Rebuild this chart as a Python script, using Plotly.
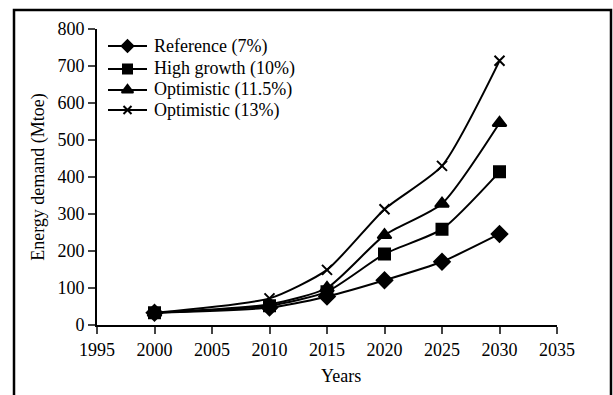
import plotly.graph_objects as go

# Energy demand projections (Mtoe) by scenario
years = [2000, 2010, 2015, 2020, 2025, 2030]
reference_7 = [33, 47, 77, 121, 171, 246]
high_growth_10 = [33, 52, 90, 192, 259, 414]
optimistic_11_5 = [33, 56, 100, 243, 328, 546]
optimistic_13 = [33, 72, 149, 313, 430, 714]

series_names = ["Reference (7%)", "High growth (10%)",
                "Optimistic (11.5%)", "Optimistic (13%)"]
series_values = [reference_7, high_growth_10, optimistic_11_5, optimistic_13]
symbols = ["diamond", "square", "triangle-up", "x-thin"]
marker_sizes = [12, 11, 12, 10]
key_sizes = [9, 9, 10, 8]

x_ticks = [1995, 2000, 2005, 2010, 2015, 2020, 2025, 2030, 2035]
y_ticks = [0, 100, 200, 300, 400, 500, 600, 700, 800]

font_family = "Liberation Serif"

L, R, T, B = 97, 56, 29, 70
W, H = 613, 395
pw, ph = W - L - R, H - T - B
bottom = H - B  # pixel row of the x axis

fig = go.Figure()
for name, vals, sym, size in zip(series_names, series_values, symbols, marker_sizes):
    fig.add_trace(go.Scatter(
        x=years, y=vals, name=name, mode="lines+markers", showlegend=False,
        line=dict(color="black", width=2, shape="spline", smoothing=0.6),
        marker=dict(symbol=sym, size=size, color="black",
                    line=dict(color="black", width=2)),
    ))

# Compact key drawn on a hidden pixel-scaled overlay axis
key_rows = [46, 69, 90, 110]          # row centres, px from top
key_x0, key_x1, key_text = 108, 147, 152
annotations = []
for name, sym, ks, row in zip(series_names, symbols, key_sizes, key_rows):
    yy = bottom - row
    fig.add_trace(go.Scatter(
        x=[key_x0 - L, key_x1 - L], y=[yy, yy], xaxis="x2", yaxis="y2",
        mode="lines", showlegend=False, hoverinfo="skip",
        line=dict(color="black", width=2),
    ))
    fig.add_trace(go.Scatter(
        x=[(key_x0 + key_x1) / 2 - L], y=[yy], xaxis="x2", yaxis="y2",
        mode="markers", showlegend=False, hoverinfo="skip",
        marker=dict(symbol=sym, size=ks, color="black",
                    line=dict(color="black", width=2)),
    ))
    annotations.append(dict(
        text=name, xref="paper", yref="paper",
        x=(key_text - L) / pw, y=yy / ph, xanchor="left", yanchor="middle",
        showarrow=False, font=dict(size=18, family=font_family),
    ))

annotations.append(dict(
    text="Years", xref="paper", yref="paper",
    x=(341 - L) / pw, y=(bottom - 376) / ph,
    xanchor="center", yanchor="middle", showarrow=False,
    font=dict(size=18, family=font_family),
))

fig.update_layout(
    width=W, height=H,
    margin=dict(l=L, r=R, t=T, b=B),
    paper_bgcolor="white", plot_bgcolor="white",
    font=dict(family=font_family, size=18, color="black"),
    showlegend=False,
    xaxis=dict(
        range=[1995, 2035], tickvals=x_ticks, ticks="outside", ticklen=7,
        tickwidth=2, showline=True, linewidth=2, linecolor="black",
        showgrid=False, zeroline=False,
    ),
    yaxis=dict(
        range=[0, 800], tickvals=y_ticks, ticks="outside", ticklen=7,
        tickwidth=2, showline=True, linewidth=2, linecolor="black",
        showgrid=False, zeroline=False,
        title=dict(text="Energy demand (Mtoe)", font=dict(size=18), standoff=8),
    ),
    xaxis2=dict(range=[0, pw], overlaying="x", visible=False, fixedrange=True),
    yaxis2=dict(range=[0, ph], overlaying="y", visible=False, fixedrange=True),
    annotations=annotations,
    shapes=[dict(
        type="rect", xref="paper", yref="paper",
        x0=(14 - L) / pw, x1=(611 - L) / pw,
        y0=(bottom - 430) / ph, y1=(bottom - 10) / ph,
        line=dict(color="black", width=2.5),
    )],
)

fig.write_html("out.html")
